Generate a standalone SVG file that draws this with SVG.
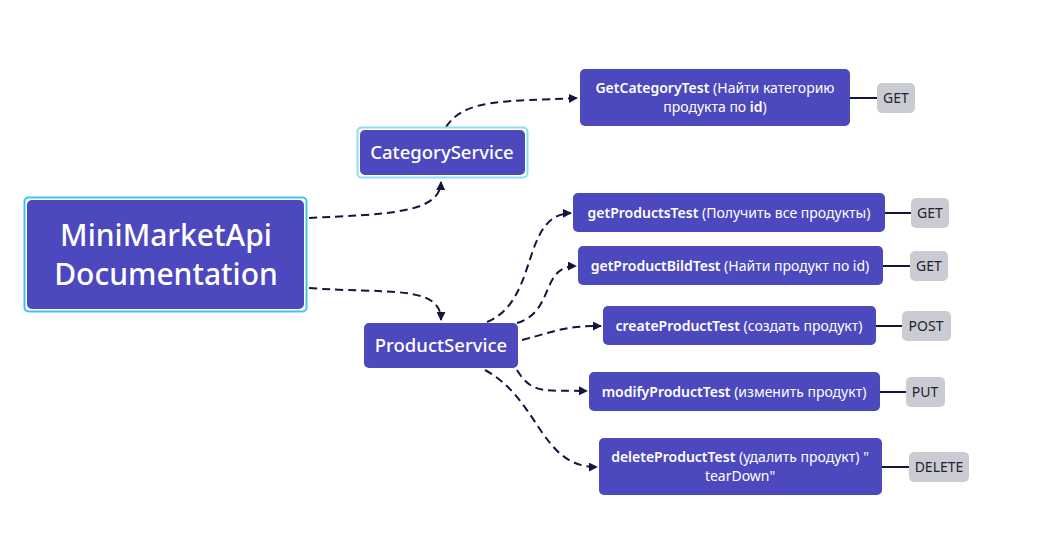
<svg xmlns="http://www.w3.org/2000/svg" width="1040" height="547" viewBox="0 0 1040 547">
<defs>
<marker id="arr" viewBox="0 0 10 10" refX="9" refY="5" markerWidth="9" markerHeight="9" markerUnits="userSpaceOnUse" orient="auto">
<path d="M0,0 L10,5 L0,10 Z" fill="#14143c"/>
</marker>
<style>
.box{fill:#4c48be;}
.sel{fill:none;stroke:#3ec3f2;stroke-width:2;}
.sel2{fill:none;stroke:#8fdcf7;stroke-width:2;}
.t{font-family:"Noto Sans","Open Sans","Liberation Sans",sans-serif;fill:#ffffff;text-anchor:middle;}
.big{font-size:30px;font-weight:500;}
.mid{font-size:18.5px;font-weight:500;}
.sm{font-size:14px;}
.b{font-weight:600;}
.tag{fill:#cbcbd3;}
.tt{font-family:"Noto Sans","Liberation Sans",sans-serif;font-size:14px;fill:#222230;text-anchor:middle;}
.con{fill:none;stroke:#14143c;stroke-width:2;stroke-dasharray:8,5;}
.link{stroke:#14143c;stroke-width:2;}
</style>
</defs>
<rect width="1040" height="547" fill="#ffffff"/>

<g id="connectors">
<path class="con" d="M309,218 C385,214 440,214 441,182" marker-end="url(#arr)"/>
<path class="con" d="M309,288 C385,294 441,284 441,320" marker-end="url(#arr)"/>
<path class="con" d="M446,127 C465,98 505,102 577,98" marker-end="url(#arr)"/>
<path class="con" d="M487,322 C540,300 520,215 571,213" marker-end="url(#arr)"/>
<path class="con" d="M517,323 C555,312 540,266 576,266" marker-end="url(#arr)"/>
<path class="con" d="M522,340 C560,330 565,326 601,326" marker-end="url(#arr)"/>
<path class="con" d="M517,370 C532,395 545,390 587,391" marker-end="url(#arr)"/>
<path class="con" d="M485,370 C540,400 540,467 597,467" marker-end="url(#arr)"/>
<line class="link" x1="850" y1="98" x2="877" y2="98"/>
<line class="link" x1="885" y1="213" x2="911" y2="213"/>
<line class="link" x1="883" y1="266" x2="910" y2="266"/>
<line class="link" x1="876" y1="326" x2="902" y2="326"/>
<line class="link" x1="880" y1="392" x2="906" y2="392"/>
<line class="link" x1="882" y1="467" x2="909" y2="467"/>
</g>

<g id="root">
<rect class="sel" x="24.5" y="197.5" width="282" height="114" rx="4"/>
<rect class="box" x="27" y="200" width="277" height="109" rx="5"/>
<text class="t big" x="166" y="246">MiniMarketApi</text>
<text class="t big" x="166" y="285">Documentation</text>
</g>

<g id="categoryService">
<rect class="sel2" x="357.5" y="127.5" width="170" height="50" rx="4"/>
<rect class="box" x="360" y="130" width="165" height="45" rx="5"/>
<text class="t mid" x="442" y="159">CategoryService</text>
</g>

<g id="productService">
<rect class="box" x="364" y="323" width="154" height="45" rx="5"/>
<text class="t mid" x="441" y="352">ProductService</text>
</g>

<g id="getCategoryTest">
<rect class="box" x="580" y="69" width="270" height="57" rx="5"/>
<text class="t sm" x="715" y="93"><tspan class="b">GetCategoryTest</tspan> (Найти категорию</text>
<text class="t sm" x="715" y="112">продукта по <tspan class="b">id</tspan>)</text>
</g>
<g id="tag-get1"><rect class="tag" x="877" y="83" width="38" height="30" rx="5"/><text class="tt" x="896" y="103">GET</text></g>

<g id="getProductsTest">
<rect class="box" x="573" y="193" width="312" height="39" rx="5"/>
<text class="t sm" x="729" y="218"><tspan class="b">getProductsTest</tspan> (Получить все продукты)</text>
</g>
<g id="tag-get2"><rect class="tag" x="911" y="198" width="38" height="30" rx="5"/><text class="tt" x="930" y="218">GET</text></g>

<g id="getProductBildTest">
<rect class="box" x="578" y="246" width="305" height="39" rx="5"/>
<text class="t sm" x="730" y="271"><tspan class="b">getProductBildTest</tspan> (Найти продукт по id)</text>
</g>
<g id="tag-get3"><rect class="tag" x="910" y="251" width="38" height="30" rx="5"/><text class="tt" x="929" y="271">GET</text></g>

<g id="createProductTest">
<rect class="box" x="603" y="306" width="273" height="39" rx="5"/>
<text class="t sm" x="739" y="331"><tspan class="b">createProductTest</tspan> (создать продукт)</text>
</g>
<g id="tag-post"><rect class="tag" x="902" y="311" width="49" height="30" rx="5"/><text class="tt" x="926" y="331">POST</text></g>

<g id="modifyProductTest">
<rect class="box" x="589" y="372" width="291" height="39" rx="5"/>
<text class="t sm" x="734" y="397"><tspan class="b">modifyProductTest</tspan> (изменить продукт)</text>
</g>
<g id="tag-put"><rect class="tag" x="906" y="377" width="39" height="30" rx="5"/><text class="tt" x="925" y="397">PUT</text></g>

<g id="deleteProductTest">
<rect class="box" x="599" y="438" width="283" height="57" rx="5"/>
<text class="t sm" x="740" y="462"><tspan class="b">deleteProductTest</tspan> (удалить продукт) "</text>
<text class="t sm" x="740" y="481">tearDown"</text>
</g>
<g id="tag-delete"><rect class="tag" x="909" y="452" width="60" height="30" rx="5"/><text class="tt" x="939" y="472">DELETE</text></g>
</svg>
